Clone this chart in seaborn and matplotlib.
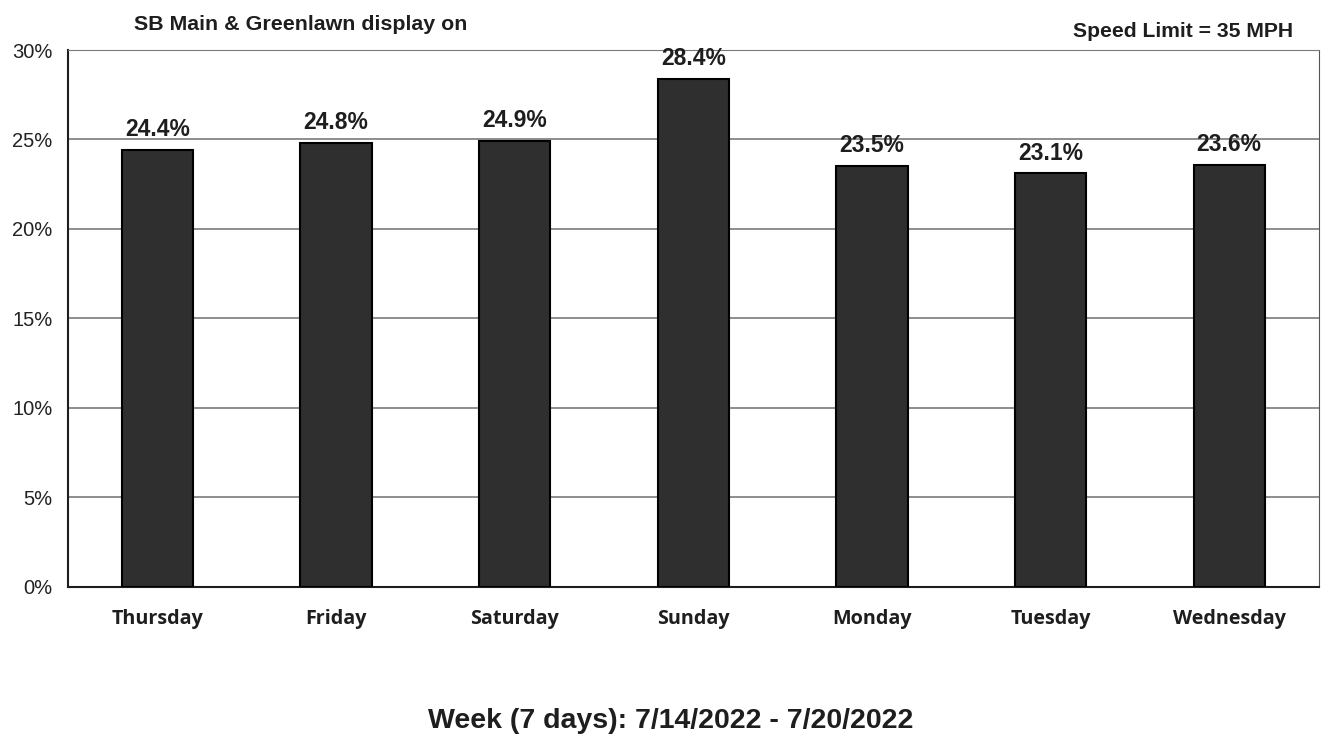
import pandas as pd
import seaborn as sns
import matplotlib.pyplot as plt
from matplotlib.ticker import PercentFormatter, FixedLocator

days = ["Thursday", "Friday", "Saturday", "Sunday", "Monday", "Tuesday", "Wednesday"]
pct = [24.4, 24.8, 24.9, 28.4, 23.5, 23.1, 23.6]
df = pd.DataFrame({"day": days, "pct": pct})

sns.set_style("white")
plt.rcParams["font.family"] = ["Liberation Sans", "DejaVu Sans"]

fig = plt.figure(figsize=(13.22, 7.41), dpi=100)
ax = fig.add_axes([0.0514, 0.208, 0.946, 0.7245])

sns.barplot(data=df, x="day", y="pct", color="#2f2f2f", edgecolor="black",
            linewidth=1.5, width=0.4, saturation=1, ax=ax, zorder=3)

# value labels above each bar
for i, v in enumerate(pct):
    ax.text(i, v + 0.5, f"{v:.1f}%", ha="center", va="bottom",
            fontsize=16.5, fontweight="bold", color="#1e1e1e")

ax.set_ylim(0, 30)
ax.set_yticks(range(0, 31, 5))
ax.yaxis.set_major_formatter(PercentFormatter(decimals=0))
ax.grid(axis="y", color="#7a7a7a", linewidth=1.2, zorder=0)
ax.set_xlim(-0.5, len(days) - 0.5)
ax.xaxis.set_minor_locator(FixedLocator([i + 0.5 for i in range(-1, len(days))]))
ax.tick_params(axis="x", which="major", length=0, pad=16)
ax.tick_params(axis="x", which="minor", length=5, direction="out", color="#333333")
ax.tick_params(axis="y", length=4, pad=7, direction="out", color="#333333", labelsize=14.5)
for lbl in ax.get_xticklabels():
    lbl.set_fontfamily(["Open Sans", "DejaVu Sans"])
    lbl.set_fontweight("bold")
    lbl.set_fontsize(14.2)
    lbl.set_color("#1e1e1e")
for lbl in ax.get_yticklabels():
    lbl.set_color("#222222")

for side in ["left", "bottom"]:
    ax.spines[side].set_color("#1e1e1e")
    ax.spines[side].set_linewidth(1.5)
ax.spines["top"].set_color("#7a7a7a")
ax.spines["right"].set_color("#555555")

ax.set_xlabel("")
ax.set_ylabel("")

fig.text(0.101, 0.967, "SB Main & Greenlawn display on", fontsize=15.4,
         fontweight="bold", ha="left", va="center", color="#1e1e1e")
fig.text(0.978, 0.958, "Speed Limit = 35 MPH", fontsize=15.2,
         fontweight="bold", ha="right", va="center", color="#1e1e1e")
fig.text(0.507, 0.027, "Week (7 days): 7/14/2022 - 7/20/2022", fontsize=20.5,
         fontweight="bold", ha="center", va="center", color="#1e1e1e")

fig.savefig("out.png", dpi=100)
